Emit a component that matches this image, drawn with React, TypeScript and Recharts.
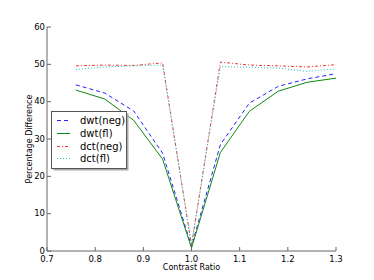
import { LineChart, Line, XAxis, YAxis, Label } from 'recharts';

const RATIOS = [0.76, 0.82, 0.88, 0.94, 1.0, 1.06, 1.12, 1.18, 1.24, 1.3];
const DWT_NEG = [44.5, 42.3, 37.5, 26.2, 1.2, 28.5, 39.6, 44.1, 46.1, 47.5];
const DWT_FL = [43.1, 40.7, 35.0, 24.6, 0.8, 26.4, 37.4, 42.8, 45.2, 46.3];
const DCT_NEG = [49.6, 49.8, 49.7, 50.4, 1.5, 50.6, 49.8, 49.6, 49.3, 49.9];
const DCT_FL = [48.6, 49.3, 49.6, 49.8, 1.8, 49.4, 49.2, 49.0, 48.1, 48.8];

const X_TICKS = [0.7, 0.8, 0.9, 1.0, 1.1, 1.2, 1.3];
const Y_TICKS = [0, 10, 20, 30, 40, 50, 60];

const SERIES = [
  { key: 'dwtNeg', name: 'dwt(neg)', values: DWT_NEG, color: '#2222ff', dash: '4 3' },
  { key: 'dwtFl', name: 'dwt(fl)', values: DWT_FL, color: '#118811', dash: undefined },
  { key: 'dctNeg', name: 'dct(neg)', values: DCT_NEG, color: '#ff3030', dash: '3 2 1 2' },
  { key: 'dctFl', name: 'dct(fl)', values: DCT_FL, color: '#22c4c4', dash: '1 2' },
];

const data = RATIOS.map((x, i) => {
  const row: Record<string, number> = { x };
  SERIES.forEach(s => { row[s.key] = s.values[i]; });
  return row;
});

const FONT = '"DejaVu Sans", sans-serif';
const FRAME = '#666';

function BottomTick({ x, y, payload }: any) {
  return (
    <g>
      <line x1={x} x2={x} y1={y} y2={y - 4} stroke={FRAME} />
      <text x={x} y={y + 10.5} textAnchor="middle" fontSize={8.5} fontFamily={FONT} fill="#000">
        {Number(payload.value).toFixed(1)}
      </text>
    </g>
  );
}

function TopTick({ x, y }: any) {
  return <line x1={x} x2={x} y1={y} y2={y + 4} stroke={FRAME} />;
}

function LeftTick({ x, y, payload }: any) {
  return (
    <g>
      <line x1={x} x2={x + 4} y1={y} y2={y} stroke={FRAME} />
      <text x={x - 2} y={y + 2.5} textAnchor="end" fontSize={8.5} fontFamily={FONT} fill="#000">
        {payload.value}
      </text>
    </g>
  );
}

function RightTick({ x, y }: any) {
  return <line x1={x} x2={x - 4} y1={y} y2={y} stroke={FRAME} />;
}

function LegendBox() {
  return (
    <svg width={82} height={64} style={{ position: 'absolute', left: 51, top: 111 }}>
      <rect x={2.5} y={2.5} width={75} height={57} fill="#aaa" />
      <rect x={0.5} y={0.5} width={75} height={57} fill="#fff" stroke="#555" />
      {SERIES.map((s, i) => {
        const cy = Math.round(9 + i * 12.8) + 0.5;
        return (
          <g key={s.key}>
            <line x1={6} x2={19} y1={cy} y2={cy} stroke={s.color} strokeWidth={1} strokeDasharray={s.dash} />
            <text x={29} y={cy + 3.5} fontSize={10} fontFamily={FONT} fill="#000">{s.name}</text>
          </g>
        );
      })}
    </svg>
  );
}

export default function App() {
  return (
    <div style={{ position: 'absolute', left: 0, top: 0, width: 374, height: 280, background: '#fff' }}>
      <LineChart width={374} height={280} data={data} margin={{ top: 27, right: 38, bottom: 9, left: 17 }}>
        <XAxis
          dataKey="x" type="number" domain={[0.7, 1.3]} ticks={X_TICKS} allowDataOverflow
          height={20} tickSize={0} tickMargin={0} tickLine={false} tick={<BottomTick />}
          axisLine={{ stroke: FRAME }} interval={0}
        >
          <Label
            content={({ viewBox }: any) => (
              <text x={viewBox.x + viewBox.width / 2} y={viewBox.y + 19} textAnchor="middle"
                fontSize={8} fontFamily={FONT} fill="#000">Contrast Ratio</text>
            )}
          />
        </XAxis>
        <XAxis
          xAxisId="top" orientation="top" dataKey="x" type="number" domain={[0.7, 1.3]} ticks={X_TICKS}
          allowDataOverflow height={0} tickSize={0} tickMargin={0} tickLine={false} tick={<TopTick />}
          axisLine={{ stroke: FRAME }} interval={0}
        />
        <YAxis
          type="number" domain={[0, 60]} ticks={Y_TICKS} allowDataOverflow width={30}
          tickSize={0} tickMargin={0} tickLine={false} tick={<LeftTick />} axisLine={{ stroke: FRAME }} interval={0}
        >
          <Label
            content={({ viewBox }: any) => {
              const lx = viewBox.x + 12;
              const ly = viewBox.y + viewBox.height / 2;
              return (
                <text x={lx} y={ly} transform={`rotate(-90 ${lx} ${ly})`} textAnchor="middle"
                  dominantBaseline="central" fontSize={8} fontFamily={FONT} fill="#000">
                  Percentage Difference
                </text>
              );
            }}
          />
        </YAxis>
        <YAxis
          yAxisId="right" orientation="right" type="number" domain={[0, 60]} ticks={Y_TICKS}
          allowDataOverflow width={0} tickSize={0} tickMargin={0} tickLine={false} tick={<RightTick />}
          axisLine={{ stroke: FRAME }} interval={0}
        />
        {SERIES.map(s => (
          <Line
            key={s.key} dataKey={s.key} name={s.name} stroke={s.color} strokeWidth={1}
            strokeDasharray={s.dash} dot={false} isAnimationActive={false} type="linear"
          />
        ))}
      </LineChart>
      <LegendBox />
    </div>
  );
}
